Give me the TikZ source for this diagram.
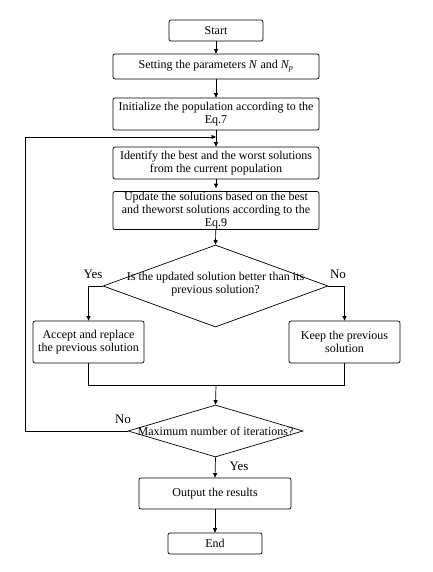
\documentclass[tikz,border=0pt]{standalone}
\usepackage{fontspec}
\setmainfont{Liberation Serif}
\usetikzlibrary{arrows.meta,shapes.geometric}
\begin{document}
\begin{tikzpicture}[x=1pt,y=-1pt,
  every node/.style={font=\fontsize{12}{13}\selectfont},
  box/.style={draw, rounded corners=2pt, line width=0.7pt, align=center, inner sep=0pt},
  dec/.style={draw, diamond, line width=0.7pt, inner sep=0pt},
  lbl/.style={font=\fontsize{13}{15}\selectfont},
  conn/.style={line width=0.7pt},
  arr/.style={conn, -{Triangle[length=4.5pt,width=4pt]}}]
\useasboundingbox (0,0) rectangle (432,572);
\node[box, minimum width=94pt, minimum height=21pt] (start) at (216,30.5) {Start};
\node[box, minimum width=206pt, minimum height=25pt] (setp) at (216,66.5) {Setting the parameters \textit{N} and \textit{N\textsubscript{p}}};
\node[box, minimum width=206pt, minimum height=32pt] (init) at (216,114) {Initialize the population according to the\\Eq.7};
\node[box, minimum width=206pt, minimum height=32pt] (ident) at (216,163) {Identify the best and the worst solutions\\from the current population};
\node[box, minimum width=206pt, minimum height=38pt] (upd) at (216,210.5) {Update the solutions based on the best\\and theworst solutions according to the\\Eq.9};
\node[dec, minimum width=225pt, minimum height=82pt] (d1) at (215.5,286) {};
\node[align=center] (d1t) at (215.5,284) {Is the updated solution better than its\\previous solution?};
\node[box, minimum width=111pt, minimum height=42pt] (acc) at (88.5,342) {Accept and replace\\the previous solution};
\node[box, minimum width=111pt, minimum height=42pt] (keep) at (344.5,342) {Keep the previous\\solution};
\node[dec, minimum width=175pt, minimum height=52pt] (d2) at (215.5,431) {};
\node (d2t) at (d2) {Maximum number of iterations?};
\node[box, minimum width=152pt, minimum height=31pt] (out) at (215,493.5) {Output the results};
\node[box, minimum width=94pt, minimum height=21pt] (end) at (215,543.5) {End};
\node[lbl] (ly1) at (93,274) {Yes};
\node[lbl] (ln1) at (338,274) {No};
\node[lbl] (ln2) at (123,419) {No};
\node[lbl] (ly2) at (239,466) {Yes};
\coordinate (lc) at (25,137);
\coordinate (jn) at (216,137);
\coordinate (m) at (216,385);
\coordinate (ma) at (88.5,385);
\coordinate (mk) at (344.5,385);
\draw[arr] (start) -- (setp);
\draw[arr] (setp) -- (init);
\draw[arr] (init) -- (ident);
\draw[arr] (ident.south) -- ([yshift=3pt]upd.north);
\draw[arr] (upd) -- (d1.north);
\draw[arr] (d1.west) -| (acc.north);
\draw[arr] (d1.east) -| (keep.north);
\draw[conn] (acc.south) -- (ma) -- (mk) -- (keep.south);
\draw[arr] (m) -- (d2.north);
\draw[arr] (d2.west) -| (lc) -- (jn);
\draw[arr] (d2.south) -- (out.north);
\draw[arr] (out) -- (end);
\end{tikzpicture}
\end{document}
